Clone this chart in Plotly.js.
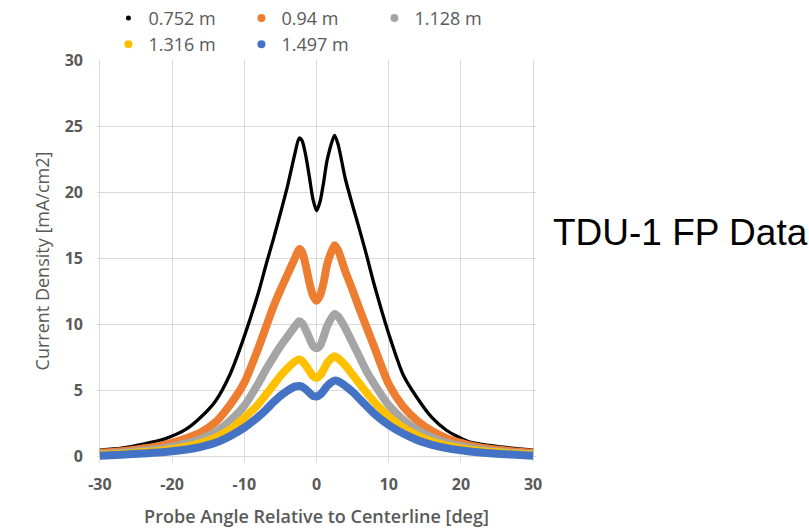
<!DOCTYPE html>
<html>
<head>
<meta charset="utf-8">
<script src="https://cdn.plot.ly/plotly-3.0.1.min.js"></script>
<style>html,body{margin:0;padding:0;background:#fff;}#chart{width:809px;height:529px;}</style>
</head>
<body>
<div id="chart"></div>
<script>
// Probe angle [deg]
const angles = [-30,-27,-24,-21,-18,-16,-14,-12,-10,-8,
                -7,-6,-5,-4,-3,-2.4,-2,-1.5,-1,-0.5,
                0,0.5,1,1.5,2.5,3,4,5,6,7,
                8,10,12,14,16,18,21,24,27,30];

// Current density [mA/cm2] per probe distance
const d0752 = [0.5,0.65,0.95,1.35,2.1,3.0,4.2,6.2,9.1,12.5,
               14.5,16.4,18.4,20.5,22.9,24.1,23.9,22.8,21.2,19.5,
               18.6,19.3,20.8,22.5,24.3,23.6,21.0,19.0,17.1,15.1,
               13.0,9.3,6.2,4.4,2.95,2.0,1.15,0.85,0.65,0.5];
const d0940 = [0.3,0.42,0.62,0.92,1.4,1.85,2.6,3.9,5.6,8.3,
               9.8,11.3,12.6,13.8,15.0,15.7,15.5,14.5,13.2,12.2,
               11.8,12.2,13.2,14.6,16.0,15.6,14.0,12.6,11.1,9.7,
               8.3,5.5,3.8,2.7,1.95,1.4,0.9,0.6,0.42,0.3];
const d1128 = [0.2,0.3,0.45,0.65,1.0,1.35,1.85,2.7,3.85,5.6,
               6.6,7.5,8.35,9.1,9.85,10.25,10.1,9.6,9.0,8.4,
               8.2,8.4,9.1,9.9,10.8,10.6,9.7,8.6,7.5,6.4,
               5.5,3.9,2.8,2.0,1.45,1.05,0.7,0.45,0.3,0.2];
const d1316 = [0.15,0.22,0.35,0.5,0.78,1.05,1.45,2.05,2.95,4.0,
               4.7,5.4,6.1,6.7,7.2,7.35,7.25,6.9,6.5,6.1,
               5.95,6.15,6.6,7.1,7.6,7.45,6.9,6.2,5.5,4.8,
               4.15,3.05,2.2,1.6,1.15,0.85,0.55,0.37,0.25,0.15];
const d1497 = [0.08,0.15,0.25,0.36,0.55,0.75,1.05,1.55,2.2,3.05,
               3.55,4.1,4.6,5.0,5.3,5.35,5.3,5.1,4.85,4.6,
               4.55,4.7,5.0,5.35,5.75,5.7,5.35,4.9,4.35,3.8,
               3.25,2.4,1.75,1.25,0.9,0.65,0.42,0.27,0.16,0.08];

const seriesNames = ['0.752 m','0.94 m','1.128 m','1.316 m','1.497 m'];
const seriesData = [d0752, d0940, d1128, d1316, d1497];
const seriesColors = ['#000000','#ED7D31','#A5A5A5','#FFC000','#4472C4'];
const lineWidths = [3.3, 8, 8, 8, 8];
const legendSizes = [5, 8, 8, 8, 8];

const xTickVals = [-30,-20,-10,0,10,20,30];
const xTickText = ['-30','-20','-10','0','10','20','30'];
const yTickVals = [0,5,10,15,20,25,30];

const traces = [];
seriesData.forEach((vals, i) => {
  traces.push({
    type: 'scatter', mode: 'lines', x: angles, y: vals,
    line: {color: seriesColors[i], width: lineWidths[i], shape: 'spline', smoothing: 0.7},
    showlegend: false, hoverinfo: 'skip'
  });
});
seriesData.forEach((vals, i) => {
  traces.push({
    type: 'scatter', mode: 'markers', x: [null], y: [null], name: seriesNames[i],
    marker: {color: seriesColors[i], size: legendSizes[i]}, showlegend: true
  });
});

const grey = '#595959';
const layout = {
  width: 809, height: 529,
  margin: {l: 97, r: 273, t: 60, b: 67, autoexpand: false},
  paper_bgcolor: '#ffffff', plot_bgcolor: '#ffffff',
  showlegend: true,
  legend: {
    orientation: 'h', x: 0.026, xanchor: 'left', y: 1.15, yanchor: 'top',
    font: {family: 'Open Sans', size: 18, color: grey},
    entrywidth: 88, entrywidthmode: 'pixels', traceorder: 'normal', bgcolor: 'rgba(0,0,0,0)'
  },
  xaxis: {
    range: [-30.4, 30.4], tickvals: xTickVals, ticktext: xTickText, fixedrange: true,
    showgrid: true, gridcolor: '#d9d9d9', gridwidth: 1, zeroline: false, showline: false,
    ticks: '', ticklabelstandoff: 11,
    tickfont: {family: 'Open Sans', size: 16, color: grey, weight: 'bold'},
    title: {text: 'Probe Angle Relative to Centerline [deg]', standoff: 16,
            font: {family: 'Open Sans', size: 18, color: grey, weight: 600}}
  },
  yaxis: {
    range: [-0.4, 30], tickvals: yTickVals, fixedrange: true,
    showgrid: true, gridcolor: '#d9d9d9', gridwidth: 1, zeroline: false, showline: false,
    ticks: '', ticklabelstandoff: 13,
    tickfont: {family: 'Open Sans', size: 16, color: grey, weight: 'bold'},
    title: {text: 'Current Density [mA/cm2]', standoff: 10,
            font: {family: 'Open Sans', size: 18, color: grey}}
  },
  annotations: [{
    text: 'TDU-1 FP Data', xref: 'paper', yref: 'paper', x: 1.034, y: 0.572,
    xanchor: 'left', yanchor: 'middle', showarrow: false,
    font: {family: 'Liberation Sans, Arial, sans-serif', size: 37, color: '#000000'}
  }]
};

Plotly.newPlot('chart', traces, layout, {staticPlot: true, displayModeBar: false});
</script>
</body>
</html>
